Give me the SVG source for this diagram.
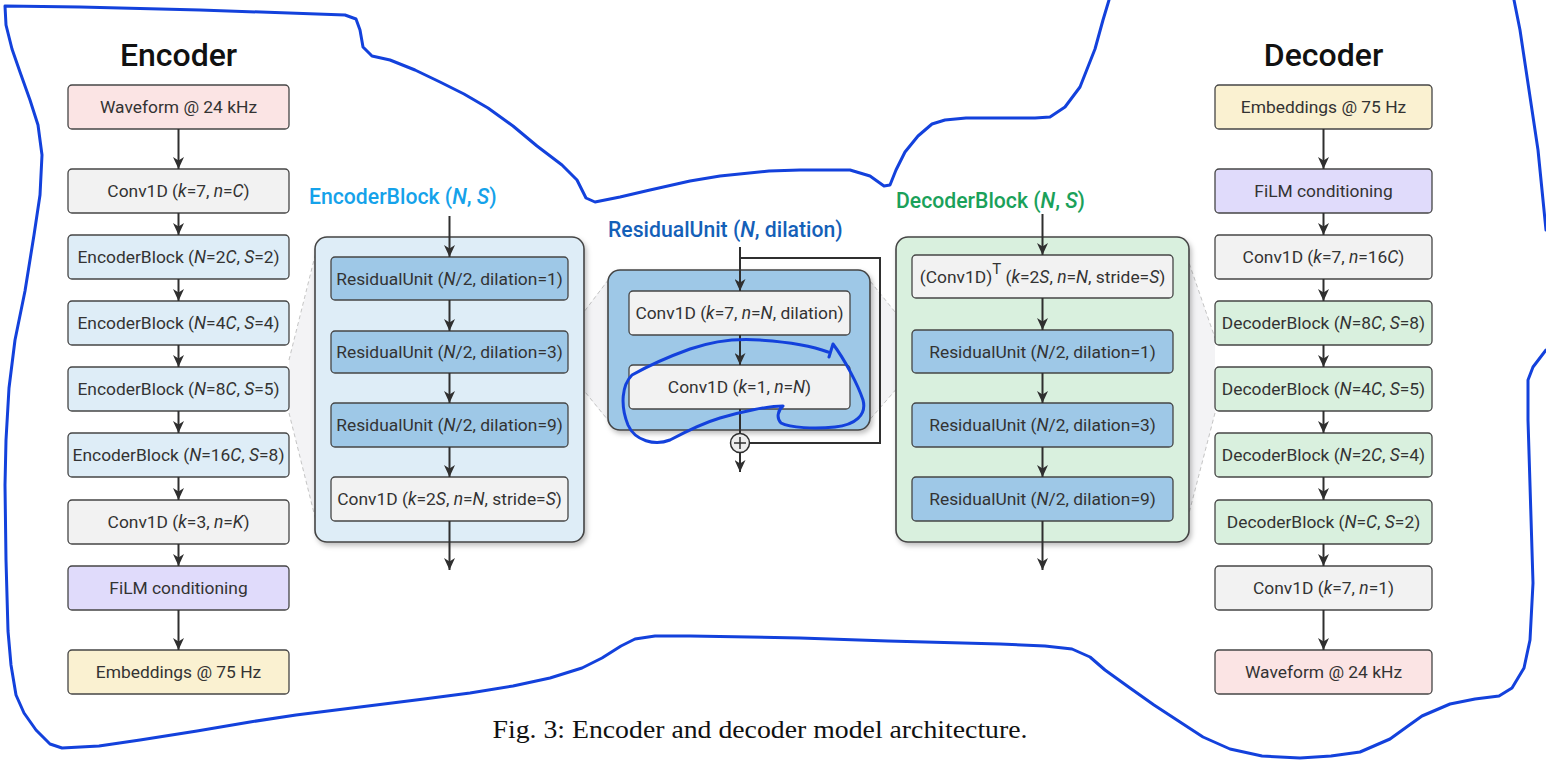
<svg xmlns="http://www.w3.org/2000/svg" width="1546" height="761" viewBox="0 0 1546 761">
<style>
.t{font-family:Roboto,"Liberation Sans",sans-serif;font-size:17.4px;fill:#333;text-anchor:middle}
.i{font-style:italic}
.bx{stroke:#454545;stroke-width:1.3}
.cont{stroke:#444;stroke-width:1.6}
.arr{stroke:#2f2f2f;stroke-width:2;fill:none;marker-end:url(#ah)}
.ln{stroke:#2f2f2f;stroke-width:2;fill:none}
.zoom{fill:#f3f3f5;stroke:none}
.dash{stroke:#c4c4c4;stroke-width:1;stroke-dasharray:4 3;fill:none}
.h1{font-family:Roboto,"Liberation Sans",sans-serif;font-size:32px;font-weight:500;fill:#111;text-anchor:middle}
.h2{font-family:Roboto,"Liberation Sans",sans-serif;font-size:21.2px;font-weight:500;text-anchor:start}
.pink{fill:#fbe4e4}.gray{fill:#f2f2f2}.lb{fill:#deedf7}.lav{fill:#e0dbfb}.yel{fill:#faf1d1}.grn{fill:#d9f0de}.mb{fill:#9ec8e7}
.blue{stroke:#1341dc;stroke-width:3;fill:none;stroke-linejoin:round;stroke-linecap:round}
</style>
<defs>
<marker id="ah" markerUnits="userSpaceOnUse" markerWidth="12" markerHeight="11" viewBox="0 0 12 11" refX="12" refY="5.5" orient="auto">
<path d="M0,0 L12,5.5 L0,11 L3.5,5.5 Z" fill="#2f2f2f"/>
</marker>
<filter id="sh" x="-10%" y="-10%" width="130%" height="130%">
<feDropShadow dx="2" dy="3" stdDeviation="2.5" flood-color="#000" flood-opacity="0.25"/>
</filter>
</defs>
<rect width="1546" height="761" fill="#fff"/>

<!-- zoom funnels -->
<g id="funnels">
<polygon class="zoom" points="289,360 320,240 320,536 289,413"/>
<line class="dash" x1="289" y1="360" x2="316" y2="252"/>
<line class="dash" x1="289" y1="413" x2="316" y2="521"/>
<polygon class="zoom" points="568,333 612,274 612,426 568,371"/>
<line class="dash" x1="568" y1="333" x2="612" y2="275"/>
<line class="dash" x1="568" y1="371" x2="612" y2="425"/>
<polygon class="zoom" points="866,276 912,333 912,371 866,424"/>
<line class="dash" x1="866" y1="276" x2="912" y2="333"/>
<line class="dash" x1="866" y1="424" x2="912" y2="371"/>
<polygon class="zoom" points="1185,252 1215,338 1215,413 1185,528"/>
<line class="dash" x1="1187" y1="257" x2="1215" y2="338"/>
<line class="dash" x1="1215" y1="413" x2="1187" y2="521"/>
</g>

<!-- Encoder column -->
<text class="h1" x="178.5" y="66">Encoder</text>
<g id="enc-wave"><rect class="bx pink" x="68" y="85" width="221" height="44" rx="4"/><text class="t" x="178.5" y="113">Waveform @ 24 kHz</text></g>
<g id="enc-conv1"><rect class="bx gray" x="68" y="169" width="221" height="44" rx="4"/><text class="t" x="178.5" y="197">Conv1D (<tspan class="i">k</tspan>=7, <tspan class="i">n</tspan>=<tspan class="i">C</tspan>)</text></g>
<g id="enc-eb1"><rect class="bx lb" x="68" y="235" width="221" height="44" rx="4"/><text class="t" x="178.5" y="263">EncoderBlock (<tspan class="i">N</tspan>=2<tspan class="i">C</tspan>, <tspan class="i">S</tspan>=2)</text></g>
<g id="enc-eb2"><rect class="bx lb" x="68" y="301" width="221" height="44" rx="4"/><text class="t" x="178.5" y="329">EncoderBlock (<tspan class="i">N</tspan>=4<tspan class="i">C</tspan>, <tspan class="i">S</tspan>=4)</text></g>
<g id="enc-eb3"><rect class="bx lb" x="68" y="367" width="221" height="44" rx="4"/><text class="t" x="178.5" y="395">EncoderBlock (<tspan class="i">N</tspan>=8<tspan class="i">C</tspan>, <tspan class="i">S</tspan>=5)</text></g>
<g id="enc-eb4"><rect class="bx lb" x="68" y="433" width="221" height="44" rx="4"/><text class="t" x="178.5" y="461">EncoderBlock (<tspan class="i">N</tspan>=16<tspan class="i">C</tspan>, <tspan class="i">S</tspan>=8)</text></g>
<g id="enc-conv2"><rect class="bx gray" x="68" y="500" width="221" height="44" rx="4"/><text class="t" x="178.5" y="528">Conv1D (<tspan class="i">k</tspan>=3, <tspan class="i">n</tspan>=<tspan class="i">K</tspan>)</text></g>
<g id="enc-film"><rect class="bx lav" x="68" y="566" width="221" height="44" rx="4"/><text class="t" x="178.5" y="594">FiLM conditioning</text></g>
<g id="enc-emb"><rect class="bx yel" x="68" y="650" width="221" height="44" rx="4"/><text class="t" x="178.5" y="678">Embeddings @ 75 Hz</text></g>

<!-- EncoderBlock detail -->
<text class="h2" x="309" y="204" fill="#15a2ea">EncoderBlock (<tspan class="i">N</tspan>, <tspan class="i">S</tspan>)</text>
<g id="encblock">
<rect class="cont lb" x="315" y="237" width="269" height="305" rx="12" filter="url(#sh)"/>
</g>
<g id="eb-ru1"><rect class="bx mb" x="331" y="257" width="237" height="43" rx="4"/><text class="t" x="449.5" y="284.5">ResidualUnit (<tspan class="i">N</tspan>/2, dilation=1)</text></g>
<g id="eb-ru2"><rect class="bx mb" x="331" y="331" width="237" height="42" rx="4"/><text class="t" x="449.5" y="358">ResidualUnit (<tspan class="i">N</tspan>/2, dilation=3)</text></g>
<g id="eb-ru3"><rect class="bx mb" x="331" y="403" width="237" height="44" rx="4"/><text class="t" x="449.5" y="431">ResidualUnit (<tspan class="i">N</tspan>/2, dilation=9)</text></g>
<g id="eb-conv"><rect class="bx gray" x="331" y="477" width="237" height="44" rx="4"/><text class="t" x="449.5" y="505">Conv1D (<tspan class="i">k</tspan>=2<tspan class="i">S</tspan>, <tspan class="i">n</tspan>=<tspan class="i">N</tspan>, stride=<tspan class="i">S</tspan>)</text></g>

<!-- ResidualUnit detail -->
<text class="h2" x="608" y="237" fill="#1460b8">ResidualUnit (<tspan class="i">N</tspan>, dilation)</text>
<g id="resunit">
<rect class="cont mb" x="608" y="270" width="262" height="160" rx="12" filter="url(#sh)"/>
</g>
<g id="ru-conv1"><rect class="bx gray" x="629" y="291" width="221" height="44" rx="4"/><text class="t" x="739.5" y="319">Conv1D (<tspan class="i">k</tspan>=7, <tspan class="i">n</tspan>=<tspan class="i">N</tspan>, dilation)</text></g>
<g id="ru-conv2"><rect class="bx gray" x="629" y="365" width="221" height="44" rx="4"/><text class="t" x="739.5" y="393">Conv1D (<tspan class="i">k</tspan>=1, <tspan class="i">n</tspan>=<tspan class="i">N</tspan>)</text></g>
<g id="ru-add"><circle cx="740" cy="443" r="9.5" fill="#ededed" stroke="#2f2f2f" stroke-width="1.5"/><path d="M734,443 H746 M740,437 V449" stroke="#2f2f2f" stroke-width="1.5"/></g>

<!-- DecoderBlock detail -->
<text class="h2" x="896" y="208" fill="#1aa15a">DecoderBlock (<tspan class="i">N</tspan>, <tspan class="i">S</tspan>)</text>
<g id="decblock">
<rect class="cont grn" x="896" y="237" width="293" height="305" rx="12" filter="url(#sh)"/>
</g>
<g id="db-convt"><rect class="bx gray" x="912" y="255" width="261" height="43" rx="4"/><text class="t" x="1042.5" y="282.5">(Conv1D)<tspan font-size="15" dy="-9">T</tspan><tspan dy="9"> (</tspan><tspan class="i">k</tspan>=2<tspan class="i">S</tspan>, <tspan class="i">n</tspan>=<tspan class="i">N</tspan>, stride=<tspan class="i">S</tspan>)</text></g>
<g id="db-ru1"><rect class="bx mb" x="912" y="330" width="261" height="43" rx="4"/><text class="t" x="1042.5" y="357.5">ResidualUnit (<tspan class="i">N</tspan>/2, dilation=1)</text></g>
<g id="db-ru2"><rect class="bx mb" x="912" y="403" width="261" height="44" rx="4"/><text class="t" x="1042.5" y="431">ResidualUnit (<tspan class="i">N</tspan>/2, dilation=3)</text></g>
<g id="db-ru3"><rect class="bx mb" x="912" y="477" width="261" height="44" rx="4"/><text class="t" x="1042.5" y="505">ResidualUnit (<tspan class="i">N</tspan>/2, dilation=9)</text></g>

<!-- Decoder column -->
<text class="h1" x="1323.5" y="66">Decoder</text>
<g id="dec-emb"><rect class="bx yel" x="1215" y="85" width="217" height="44" rx="4"/><text class="t" x="1323.5" y="113">Embeddings @ 75 Hz</text></g>
<g id="dec-film"><rect class="bx lav" x="1215" y="169" width="217" height="44" rx="4"/><text class="t" x="1323.5" y="197">FiLM conditioning</text></g>
<g id="dec-conv1"><rect class="bx gray" x="1215" y="235" width="217" height="44" rx="4"/><text class="t" x="1323.5" y="263">Conv1D (<tspan class="i">k</tspan>=7, <tspan class="i">n</tspan>=16<tspan class="i">C</tspan>)</text></g>
<g id="dec-db1"><rect class="bx grn" x="1215" y="301" width="217" height="44" rx="4"/><text class="t" x="1323.5" y="329">DecoderBlock (<tspan class="i">N</tspan>=8<tspan class="i">C</tspan>, <tspan class="i">S</tspan>=8)</text></g>
<g id="dec-db2"><rect class="bx grn" x="1215" y="367" width="217" height="44" rx="4"/><text class="t" x="1323.5" y="395">DecoderBlock (<tspan class="i">N</tspan>=4<tspan class="i">C</tspan>, <tspan class="i">S</tspan>=5)</text></g>
<g id="dec-db3"><rect class="bx grn" x="1215" y="433" width="217" height="44" rx="4"/><text class="t" x="1323.5" y="461">DecoderBlock (<tspan class="i">N</tspan>=2<tspan class="i">C</tspan>, <tspan class="i">S</tspan>=4)</text></g>
<g id="dec-db4"><rect class="bx grn" x="1215" y="500" width="217" height="44" rx="4"/><text class="t" x="1323.5" y="528">DecoderBlock (<tspan class="i">N</tspan>=<tspan class="i">C</tspan>, <tspan class="i">S</tspan>=2)</text></g>
<g id="dec-conv2"><rect class="bx gray" x="1215" y="566" width="217" height="44" rx="4"/><text class="t" x="1323.5" y="594">Conv1D (<tspan class="i">k</tspan>=7, <tspan class="i">n</tspan>=1)</text></g>
<g id="dec-wave"><rect class="bx pink" x="1215" y="650" width="217" height="44" rx="4"/><text class="t" x="1323.5" y="678">Waveform @ 24 kHz</text></g>

<!-- connectors -->
<g id="connectors">
<line class="arr" x1="178.5" y1="129" x2="178.5" y2="169"/>
<line class="arr" x1="178.5" y1="213" x2="178.5" y2="235"/>
<line class="arr" x1="178.5" y1="279" x2="178.5" y2="301"/>
<line class="arr" x1="178.5" y1="345" x2="178.5" y2="367"/>
<line class="arr" x1="178.5" y1="411" x2="178.5" y2="433"/>
<line class="arr" x1="178.5" y1="477" x2="178.5" y2="500"/>
<line class="arr" x1="178.5" y1="544" x2="178.5" y2="566"/>
<line class="arr" x1="178.5" y1="610" x2="178.5" y2="650"/>

<line class="arr" x1="449.5" y1="216" x2="449.5" y2="257"/>
<line class="arr" x1="449.5" y1="300" x2="449.5" y2="331"/>
<line class="arr" x1="449.5" y1="373" x2="449.5" y2="403"/>
<line class="arr" x1="449.5" y1="447" x2="449.5" y2="477"/>
<line class="arr" x1="449.5" y1="521" x2="449.5" y2="570"/>

<line class="arr" x1="740" y1="247" x2="740" y2="291"/>
<path class="ln" d="M740,258 H880 V443 H749.5"/>
<line class="arr" x1="740" y1="335" x2="740" y2="365"/>
<line class="ln" x1="740" y1="409" x2="740" y2="433.5"/>
<line class="arr" x1="740" y1="452.5" x2="740" y2="472"/>

<line class="arr" x1="1042.5" y1="214" x2="1042.5" y2="255"/>
<line class="arr" x1="1042.5" y1="298" x2="1042.5" y2="330"/>
<line class="arr" x1="1042.5" y1="373" x2="1042.5" y2="403"/>
<line class="arr" x1="1042.5" y1="447" x2="1042.5" y2="477"/>
<line class="arr" x1="1042.5" y1="521" x2="1042.5" y2="570"/>

<line class="arr" x1="1323.5" y1="129" x2="1323.5" y2="169"/>
<line class="arr" x1="1323.5" y1="213" x2="1323.5" y2="235"/>
<line class="arr" x1="1323.5" y1="279" x2="1323.5" y2="301"/>
<line class="arr" x1="1323.5" y1="345" x2="1323.5" y2="367"/>
<line class="arr" x1="1323.5" y1="411" x2="1323.5" y2="433"/>
<line class="arr" x1="1323.5" y1="477" x2="1323.5" y2="500"/>
<line class="arr" x1="1323.5" y1="544" x2="1323.5" y2="566"/>
<line class="arr" x1="1323.5" y1="610" x2="1323.5" y2="650"/>
</g>

<!-- caption -->
<text x="760" y="738" font-family="'Liberation Serif','Times New Roman',serif" font-size="26" fill="#111" text-anchor="middle" textLength="535" lengthAdjust="spacingAndGlyphs">Fig. 3: Encoder and decoder model architecture.</text>

<!-- hand-drawn annotations -->
<g id="annotations">
<polyline class="blue" points="1109,0 1103,20 1095,49 1080,87 1065,107 1050,117 1035,118 966,118 945,120 932,124 918,136 905,152 896,170 890,185 884,186 870,176 850,170 800,170 769,171 720,176 690,181 650,190 620,197 595,202 586,198 582,190 577,180 562,165 537,146 513,126 488,108 464,94 440,82 415,70 390,60 372,56 363,47 360,30 356,19 345,15 200,10 80,7 5,6 6,25 12,49 20,72 30,100 38,125 42,155 40,195 34,235 25,291 15,340 9,388 6,440 5,485 6,560 8,631 11,665 16,695 24,713 36,730 50,744 62,748 99,746 140,740 197,731 250,722 296,715 360,707 424,699 470,693 513,686 550,678 582,668 602,658 621,646 635,639 655,636 690,636 800,638 888,641 1000,644 1045,646 1072,649 1090,657 1105,670 1130,688 1154,705 1180,722 1203,737 1230,749 1262,756 1300,758 1331,756 1360,752 1390,739 1408,726 1422,716 1450,704 1475,699 1499,696 1512,688 1524,668 1530,640 1533,583 1530,485 1528,420 1528,380 1533,367 1546,350"/>
<polyline class="blue" points="1514,0 1520,30 1526,70 1532,110 1538,150 1542,190 1546,230"/>
<path class="blue" d="M829,357 L833,344 C845,360 858,385 863,400 C867,415 855,425 835,427 C815,429 790,428 781,423 C776,418 778,410 783,406 C768,406 740,412 720,418 C700,424 685,432 670,440 C655,446 635,441 628,425 C620,405 622,385 632,375 C648,366 665,358 690,349 C710,342 735,338 760,340 C790,342 815,347 828,352"/>
</g>
</svg>
